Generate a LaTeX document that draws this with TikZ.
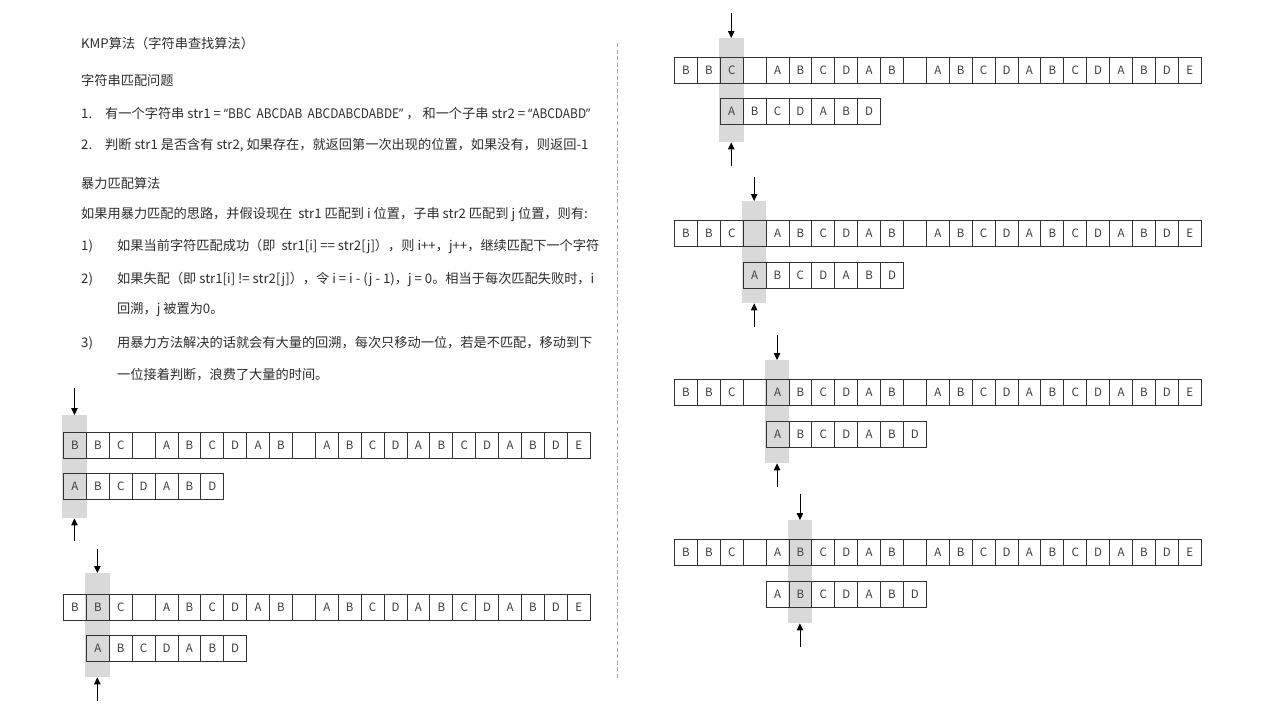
\documentclass[tikz,border=0pt]{standalone}
\usepackage{fontspec}
\usepackage{graphicx}
\setmainfont{Noto Sans CJK SC}
\newfontfamily\latq{Noto Sans}
\usetikzlibrary{arrows.meta}
\definecolor{textc}{HTML}{2E2E2E}
\definecolor{celltext}{HTML}{3C3C3C}
\definecolor{cellline}{HTML}{333333}
\definecolor{shadec}{HTML}{D9D9D9}
\definecolor{divc}{HTML}{A6A6A6}
\newcommand\txtfont{\fontsize{13.2pt}{15pt}\selectfont}
\newcommand\cellfont{\fontsize{11.5pt}{13pt}\selectfont}
\newcommand\myquoted[1]{\scalebox{0.9}[1]{{\latq “}#1{\latq ”}}}
\newcommand\cellw{22.9}
% main row: name, x0, ytop
\newcommand\kmpmain[3]{%
  \foreach \c [count=\i from 0] in {B,B,C,{},A,B,C,D,A,B,{},A,B,C,D,A,B,C,D,A,B,D,E}{%
    \node[cellbox] (#1-\i) at ({#2+\i*\cellw},#3) {\c};}}
% pattern row: name, x0, ytop
\newcommand\kmppat[3]{%
  \foreach \c [count=\i from 0] in {A,B,C,D,A,B,D}{%
    \node[cellbox] (#1-\i) at ({#2+\i*\cellw},#3) {\c};}}
% shaded column: name, cell left x, ytop, ybottom, arrow top, arrow bottom
\newcommand\kmpshade[6]{%
  \node[colshade, minimum height={#4-#3}] (#1) at ({#2+\cellw/2},#3) {};
  \coordinate (#1-t) at ({#2+\cellw/2},#5);
  \coordinate (#1-b) at ({#2+\cellw/2},#6);}
\begin{document}
\begin{tikzpicture}[x=1pt,y=-1pt,
  txt/.style={anchor=west, inner sep=0pt, font=\txtfont, text=textc},
  cellbox/.style={draw=cellline, line width=0.9pt, minimum width=\cellw pt, minimum height=26pt,
    inner sep=0pt, anchor=north west, font=\cellfont, text=celltext},
  colshade/.style={fill=shadec, draw=none, minimum width=24.5pt, inner sep=0pt, anchor=north},
  ptr/.style={-{Triangle[length=7pt,width=6.5pt]}, line width=0.9pt, black}]
\useasboundingbox (0,0) rectangle (1280,720);
\fill[white] (0,0) rectangle (1280,720);

% shaded columns (drawn first)
\kmpshade{s1}{63}{415}{518}{388}{541}
\kmpshade{s2}{85.9}{573}{677}{549}{701}
\kmpshade{s3}{719.8}{38}{142}{13}{166}
\kmpshade{s4}{742.7}{201}{303}{177}{327}
\kmpshade{s5}{765.6}{360}{463}{335}{487}
\kmpshade{s6}{788.5}{520}{623}{494}{647}

% rows
\kmpmain{ma}{63}{432}
\kmppat{pa}{63}{473}
\kmpmain{mb}{63}{594}
\kmppat{pb}{85.9}{635}
\kmpmain{mc}{674}{57}
\kmppat{pc}{719.8}{98}
\kmpmain{md}{674}{220}
\kmppat{pd}{742.7}{262}
\kmpmain{me}{674}{379}
\kmppat{pe}{765.6}{421}
\kmpmain{mf}{674}{539}
\kmppat{pf}{765.6}{581}

% pointers
\foreach \s in {s1,s2,s3,s4,s5,s6}{
  \draw[ptr] (\s-t) -- (\s.north);
  \draw[ptr] (\s-b) -- (\s.south);
}

% divider
\coordinate (dv1) at (617,43);
\coordinate (dv2) at (617,678);
\draw[divc, line width=0.8pt, dash pattern=on 4pt off 2.5pt] (dv1) -- (dv2);

% text
\node[txt] (h1) at (81,43) {KMP算法（字符串查找算法）};
\node[txt] (h2) at (81,80) {字符串匹配问题};
\node[txt] (n1) at (81,114) {1.};
\node[txt] (l1) at (105,114) {有一个字符串 str1 = \myquoted{BBC\ \ ABCDAB\ \ ABCDABCDABDE} ， 和一个子串 str2 = \myquoted{ABCDABD}};
\node[txt] (n2) at (81,145) {2.};
\node[txt] (l2) at (105,145) {判断 str1 是否含有 str2, 如果存在，就返回第一次出现的位置，如果没有，则返回-1};
\node[txt] (h3) at (81,183) {暴力匹配算法};
\node[txt] (l3) at (81,215) {如果用暴力匹配的思路，并假设现在\ \ str1 匹配到 i 位置，子串 str2 匹配到 j 位置，则有:};
\node[txt] (n3) at (81,246) {1)};
\node[txt] (l4) at (117,246) {如果当前字符匹配成功（即\ \ str1[i] == str2[j]），则 i++，j++，继续匹配下一个字符};
\node[txt] (n4) at (81,279) {2)};
\node[txt] (l5) at (117,279) {如果失配（即 str1[i] != str2[j]），令 i = i - (j - 1)，j = 0。相当于每次匹配失败时，i};
\node[txt] (l6) at (117,310) {回溯，j 被置为0。};
\node[txt] (n5) at (81,343) {3)};
\node[txt] (l7) at (117,343) {用暴力方法解决的话就会有大量的回溯，每次只移动一位，若是不匹配，移动到下};
\node[txt] (l8) at (117,375) {一位接着判断，浪费了大量的时间。};
\end{tikzpicture}
\end{document}
